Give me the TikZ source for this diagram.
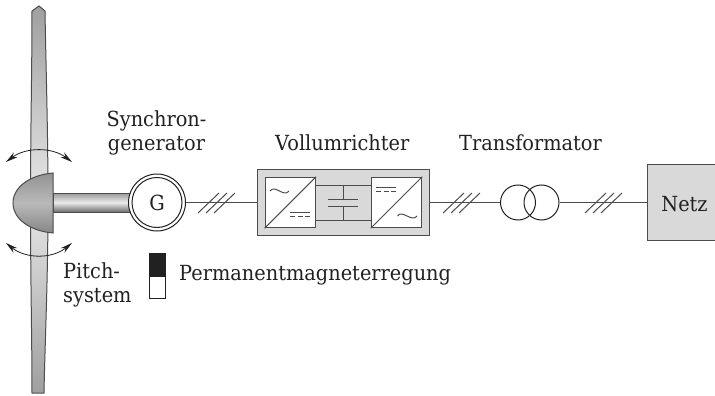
\documentclass[tikz,border=0pt]{standalone}
\usepackage{fontspec}
\setmainfont[FakeStretch=0.93]{DejaVu Serif}
\usetikzlibrary{arrows.meta}
\definecolor{ink}{gray}{0.13}
\definecolor{ln}{gray}{0.3}
\definecolor{panel}{gray}{0.85}
\tikzset{
  x=1pt,y=-1pt,
  lbl/.style={text=ink,inner sep=0pt,font=\fontsize{20.8}{24}\selectfont},
  wire/.style={draw=ln,line width=1pt},
  thin wire/.style={draw=ln,line width=1pt},
  slash/.style={draw=ln,line width=1pt},
  conv/.style={draw=ln,line width=1pt,fill=white,minimum size=50.5pt,inner sep=0pt},
  swing/.style={draw=ink,line width=0.8pt,{Stealth[length=12pt,width=6pt]}-{Stealth[length=12pt,width=6pt]}},
  trafo/.style={circle,draw=ink,line width=1pt,minimum size=35pt,inner sep=0pt},
  bladeshade/.style={draw=ln,line width=1pt,top color=gray!75!white,bottom color=gray!75!white,middle color=gray!18!white},
}
\begin{document}
\begin{tikzpicture}
\useasboundingbox (0,0) rectangle (715,396);
% blade
\path[bladeshade] (32,11) -- (39,6) -- (45,11) .. controls (46,70) and (48,130) .. (48,203)
  .. controls (48,280) and (45,340) .. (44,393) -- (32,393) .. controls (32,340) and (30.5,280) .. (30.5,203)
  .. controls (30.5,130) and (32,70) .. (32,11) -- cycle;
% pitch arcs
\draw[swing] (6,162) .. controls (26,147) and (52,147) .. (72,162);
\draw[swing] (6,243) .. controls (26,259) and (52,259) .. (72,243);
% shaft
\path[draw=ln,line width=0.6pt,top color=gray!80!white,bottom color=gray!85!black,middle color=gray!15!white] (53,193) rectangle (130,212);
% hub
\path[draw=ln,line width=1pt,top color=gray!85!white,bottom color=gray!95,middle color=gray!55!white]
  (53,173) .. controls (30,175) and (13,187) .. (13,203) .. controls (13,219) and (30,231) .. (53,233) -- cycle;
% generator
\node[circle,draw=ink,line width=1pt,fill=white,minimum size=57pt,inner sep=0pt] (gen) at (157,202.5) {};
\node[circle,draw=ink,line width=1pt,fill=white,minimum size=50pt,inner sep=0pt,lbl] (gi) at (157,202.5) {G};
% converter
\node[draw=ln,line width=1pt,fill=panel,minimum width=172pt,minimum height=66pt,inner sep=0pt] (vr) at (343,202.5) {};
\node[conv] (cl) at (290.3,202.5) {};
\node[conv] (cr) at (396.5,202.5) {};
\draw[thin wire] (cl.south west) -- (cl.north east);
\draw[thin wire] (cr.south west) -- (cr.north east);
\coordinate (bt1) at (315.5,185.5); \coordinate (bt2) at (371,185.5);
\coordinate (bb1) at (315.5,220.5); \coordinate (bb2) at (371,220.5);
\draw[wire,line width=1.3pt] (bt1) -- (bt2);
\draw[wire] (bb1) -- (bb2);
\coordinate (pt1) at (328,199.5); \coordinate (pt2) at (358,199.5);
\coordinate (pb1) at (328,206.5); \coordinate (pb2) at (358,206.5);
\draw[wire] (pt1) -- (pt2);
\draw[wire] (pb1) -- (pb2);
\draw[thin wire] (343.5,186) -- (343.5,200);
\draw[thin wire] (343.5,207) -- (343.5,220);
% AC / DC marks
\draw[thin wire] (270,191) .. controls (275,184) and (284,198) .. (289,191);
\draw[thin wire] (397.5,216) .. controls (402,209) and (412,223) .. (417,216);
\draw[thin wire] (290,212.5) -- (310,212.5);
\draw[thin wire,dash pattern=on 5pt off 2.5pt] (290,216.5) -- (310,216.5);
\draw[thin wire] (376,187.5) -- (396,187.5);
\draw[thin wire,dash pattern=on 5pt off 2.5pt] (376,191.5) -- (396,191.5);
% transformer
\node[trafo] (t1) at (518,202.5) {};
\node[trafo] (t2) at (541.5,202.5) {};
% grid
\node[draw=ln,line width=1pt,fill=panel,minimum width=68pt,minimum height=76pt,inner sep=0pt] (netz) at (681.5,202.5) {};
\node[lbl,anchor=base] (nt) at (684.5,211) {Netz};
% connectors
\draw[wire] (gen) -- (vr);
\draw[wire] (vr) -- (t1);
\draw[wire] (t2) -- (netz);
\foreach \sx in {198,206,214,443,451,459,585,593,601}
  \draw[slash] (\sx,213) -- (\sx+21,193);
% magnet
\node[draw=ink,line width=0.8pt,fill=ink,minimum width=16pt,minimum height=23pt,inner sep=0pt,anchor=north west] (mn) at (148.5,252.5) {};
\node[draw=ink,line width=0.8pt,fill=white,minimum width=16pt,minimum height=22pt,inner sep=0pt,anchor=north] (ms) at (mn.south) {};
% labels
\node[lbl,align=center,anchor=base] (sg) at (156.5,150) {Synchron-\\generator};
\node[lbl,anchor=base west] (vl) at (275,150) {Vollumrichter};
\node[lbl,anchor=base west] (tl) at (459,150) {Transformator};
\node[lbl,align=left,anchor=base west] (pl) at (63,302) {Pitch-\\system};
\node[lbl,anchor=base west] (pm) at (179,280) {Permanentmagneterregung};
\end{tikzpicture}
\end{document}
